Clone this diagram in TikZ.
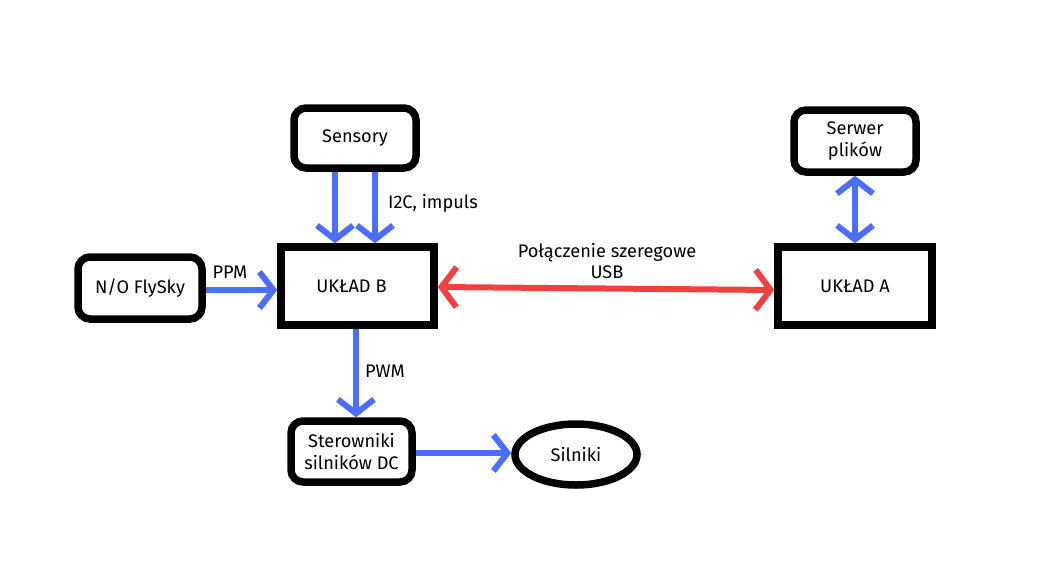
\documentclass[tikz,border=0pt]{standalone}
\usepackage{fontspec}
\setmainfont{Fira Sans}
\usetikzlibrary{arrows.meta,shapes.geometric}
\definecolor{ablue}{RGB}{76,110,255}
\definecolor{ared}{RGB}{240,64,64}
\tikzset{
  fnt/.style={font=\fontsize{18.2}{21.5}\selectfont},
  rbox/.style={fnt,draw=black,line width=7.5pt,rounded corners=12pt,fill=white,align=center},
  sbox/.style={fnt,draw=black,line width=7.5pt,fill=white,align=center},
  ebox/.style={fnt,draw=black,line width=7.5pt,ellipse,fill=white},
  barrow/.style={draw=ablue,line width=6pt,-{Straight Barb[length=14pt,width=36pt]}},
  bbarrow/.style={draw=ablue,line width=6pt,{Straight Barb[length=14pt,width=36pt]}-{Straight Barb[length=14pt,width=36pt]}},
  rarrow/.style={draw=ared,line width=6pt,{Straight Barb[length=15pt,width=40pt]}-{Straight Barb[length=15pt,width=40pt]}},
  lbl/.style={fnt,align=center}
}
\begin{document}
\begin{tikzpicture}[x=1pt,y=-1pt]
\useasboundingbox (0,0) rectangle (1063,584);
\node[rbox,minimum width=122pt,minimum height=60pt] (sens) at (355,138) {Sensory};
\node[rbox,minimum width=124pt,minimum height=62pt] (fly) at (140,288) {N/O FlySky};
\node[sbox,minimum width=153pt,minimum height=78pt] (ukb) at (357.5,286) {\hspace*{-12pt}UKŁAD B};
\node[sbox,minimum width=154pt,minimum height=78pt] (uka) at (855,286) {UKŁAD A};
\node[rbox,minimum width=122pt,minimum height=62pt] (serw) at (855,141) {Serwer\\plików};
\node[rbox,minimum width=121pt,minimum height=61pt] (ster) at (351.5,451.5) {Sterowniki\\silników DC};
\node[ebox,minimum width=122pt,minimum height=61pt,inner sep=0pt] (siln) at (576,454.5) {Silniki};

\draw[barrow] ([xshift=-20pt]sens.south) -- ([xshift=-20pt]sens.south |- ukb.north);
\draw[barrow] ([xshift=20pt]sens.south) -- ([xshift=20pt]sens.south |- ukb.north);
\draw[barrow] ([yshift=-2pt]fly.east) -- ([yshift=-2pt]fly.east -| ukb.west);
\draw[barrow] ([xshift=-1.5pt]ukb.south) -- ([xshift=-1.5pt]ukb.south |- ster.north);
\draw[barrow] ([yshift=-1.5pt]ster.east) -- ([yshift=-1.5pt]ster.east -| siln.west);
\draw[bbarrow] (serw.south) -- (serw.south |- uka.north);
\draw[rarrow] ([yshift=-1pt]ukb.east) -- ([yshift=-4pt]uka.west);

\node[lbl] (lppm) at (230,272) {PPM};
\node[lbl] (li2c) at (433,203) {I2C, impuls};
\node[lbl] (lpwm) at (385,371) {PWM};
\node[lbl] (lusb) at (607,261) {Połączenie szeregowe\\USB};
\end{tikzpicture}
\end{document}
